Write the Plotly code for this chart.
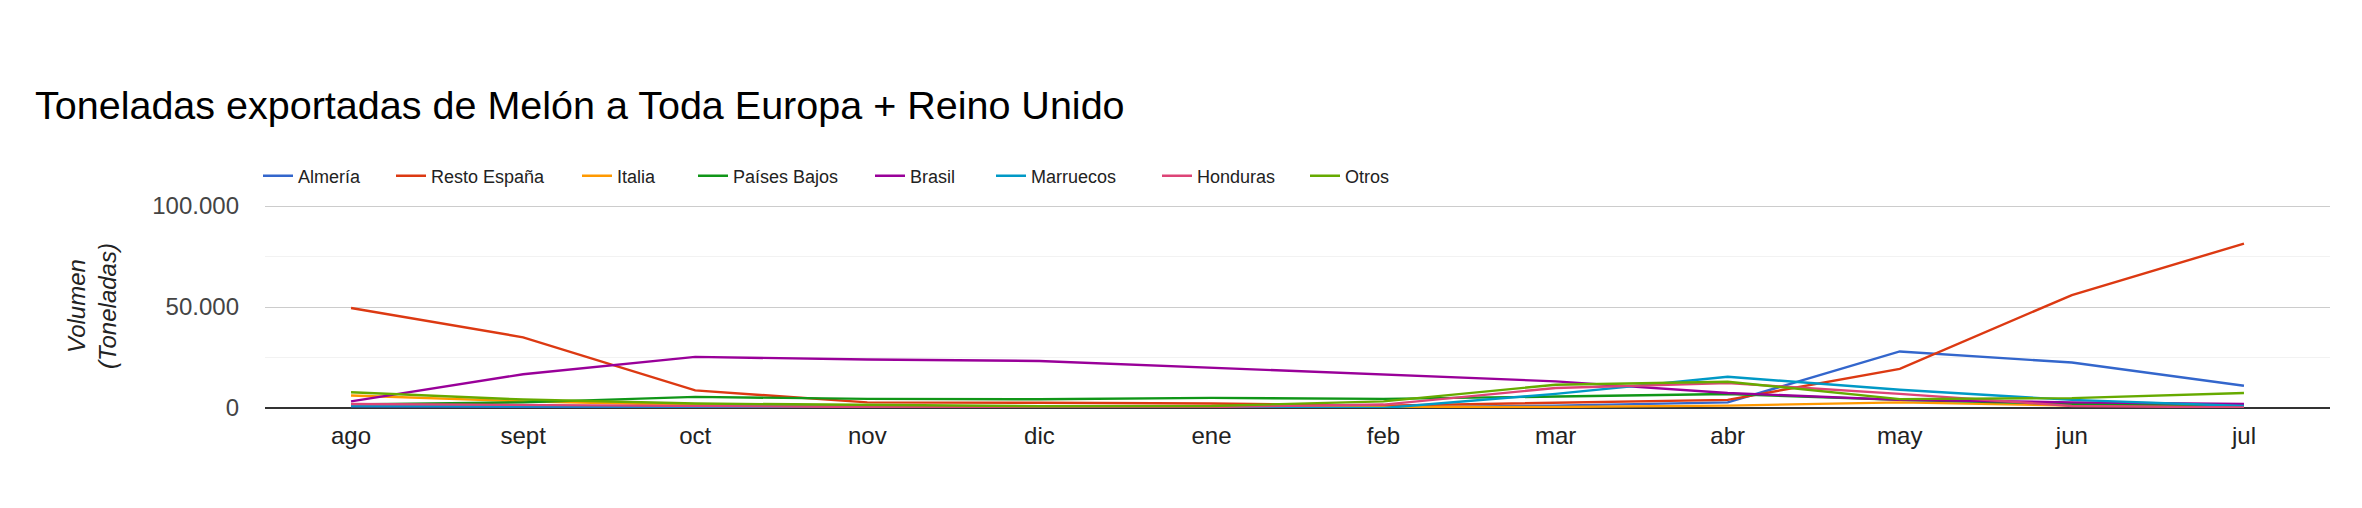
import plotly.graph_objects as go

months = ["ago", "sept", "oct", "nov", "dic", "ene", "feb", "mar", "abr", "may", "jun", "jul"]

almeria = [800, 500, 300, 200, 200, 200, 300, 1200, 2800, 28000, 22500, 11000]
resto_espana = [49500, 35000, 8700, 2800, 2600, 2200, 1200, 2500, 4000, 19400, 55900, 81400]
italia = [6200, 3300, 1500, 800, 500, 500, 300, 500, 1200, 2800, 1200, 800]
paises_bajos = [1700, 2800, 5500, 4500, 4300, 5000, 4500, 5800, 6900, 4000, 2000, 1500]
brasil = [3300, 16700, 25300, 24000, 23300, 20000, 16700, 13200, 7400, 4000, 2800, 2000]
marruecos = [1200, 1000, 800, 500, 300, 200, 0, 7000, 15500, 9000, 4000, 1000]
honduras = [2000, 1500, 1000, 500, 500, 500, 1700, 9900, 12300, 7000, 1000, 300]
otros = [7800, 4200, 2200, 1400, 900, 1000, 3300, 11500, 13000, 4400, 4900, 7400]

series = [
    ("Almería", almeria, "#3366cc"),
    ("Resto España", resto_espana, "#dc3912"),
    ("Italia", italia, "#ff9900"),
    ("Países Bajos", paises_bajos, "#109618"),
    ("Brasil", brasil, "#990099"),
    ("Marruecos", marruecos, "#0099c6"),
    ("Honduras", honduras, "#dd4477"),
    ("Otros", otros, "#66aa00"),
]

W, H = 2362, 508
ML, MR, MT, MB = 265, 32, 204, 100
plot_w = W - ML - MR
plot_h = H - MT - MB

# legend entry left edges (px in figure)
legend_px = [258, 391, 577, 693, 870, 991, 1157, 1305]

fig = go.Figure()
layout_legends = {}
for i, (name, vals, color) in enumerate(series):
    lid = "legend" if i == 0 else f"legend{i + 1}"
    fig.add_trace(go.Scatter(x=months, y=vals, name=name, mode="lines",
                             line=dict(color=color, width=2.4), legend=lid))
    layout_legends[lid] = dict(
        orientation="h", xref="paper", yref="paper",
        x=(legend_px[i] - ML) / plot_w, xanchor="left",
        y=(H - MB - 176) / plot_h, yanchor="middle",
        font=dict(size=18, color="#222"), bgcolor="rgba(0,0,0,0)",
    )

fig.update_layout(
    width=W, height=H,
    paper_bgcolor="white", plot_bgcolor="white",
    font=dict(family="Arial, Liberation Sans, sans-serif", color="#222"),
    separators=",.",
    margin=dict(l=ML, r=MR, t=MT, b=MB),
    title=dict(text="Toneladas exportadas de Melón a Toda Europa + Reino Unido",
               x=35 / W, xref="container", xanchor="left",
               y=1 - 105 / H, yref="container", yanchor="middle",
               font=dict(size=39.5, color="#000")),
    showlegend=True,
    **layout_legends,
)
fig.update_xaxes(range=[-0.5, 11.5], showgrid=False, zeroline=False, showline=False,
                 ticks="", tickfont=dict(size=24, color="#222"), ticklabelstandoff=11)
fig.update_yaxes(range=[0, 101000], tickvals=[0, 50000, 100000], tickformat=",d",
                 showgrid=True, gridcolor="#cccccc", gridwidth=1,
                 minor=dict(tickvals=[25000, 75000], showgrid=True, gridcolor="#f2f2f2"),
                 zeroline=True, zerolinecolor="#333333", zerolinewidth=1.5,
                 tickfont=dict(size=24, color="#444"), ticklabelstandoff=25,
                 title=dict(text="<i>Volumen</i><br><i>(Toneladas)</i>",
                            font=dict(size=24, color="#222"), standoff=28))

fig.write_html("out.html")
